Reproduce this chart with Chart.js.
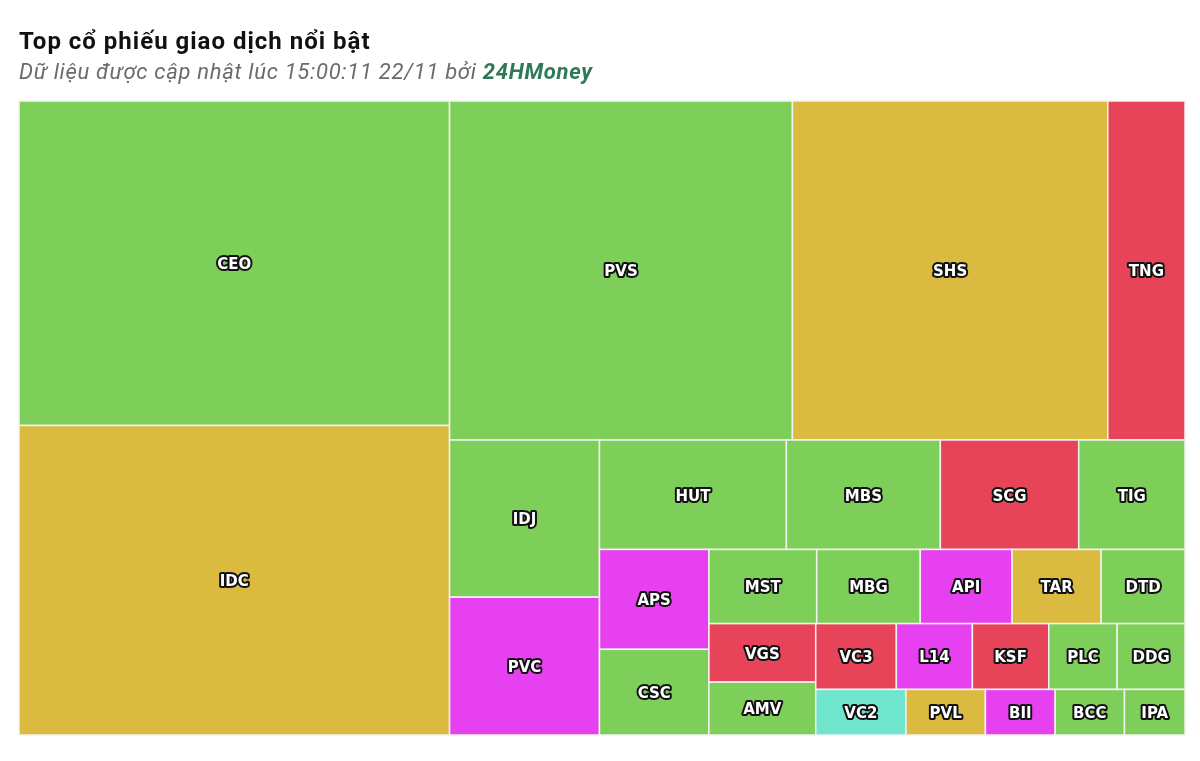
<!DOCTYPE html>
<html>
<head>
<meta charset="utf-8">
<script src="https://cdn.jsdelivr.net/npm/chart.js@4.4.1/dist/chart.umd.min.js"></script>
<style>
  html, body { margin: 0; padding: 0; background: #fff; }
  #wrap { position: relative; width: 1200px; height: 761px; overflow: hidden; }
  #title { position: absolute; left: 19px; top: 29px; font: bold 24px Roboto, sans-serif; line-height: 24px; letter-spacing: 1px; color: #111; white-space: nowrap; }
  #sub { position: absolute; left: 19px; top: 61px; font: italic 22px Roboto, sans-serif; line-height: 22px; letter-spacing: 0.7px; color: #6b6b6b; white-space: nowrap; }
  #sub b { color: #2e7a58; font-weight: bold; }
  #c { position: absolute; left: 0; top: 0; }
</style>
</head>
<body>
<div id="wrap">
  <canvas id="c" width="1200" height="761"></canvas>
  <div id="title">Top cổ phiếu giao dịch nổi bật</div>
  <div id="sub">Dữ liệu được cập nhật lúc 15:00:11 22/11 bởi <b>24HMoney</b></div>
</div>
<script>
// ---- data ----
const tickers = ["CEO","IDC","PVS","SHS","TNG","IDJ","PVC","HUT","MBS","SCG","TIG","APS","CSC","MST","MBG","API","TAR","DTD","VGS","AMV","VC3","L14","KSF","PLC","DDG","VC2","PVL","BII","BCC","IPA"];
const values  = [139.3,132.9,115.9,106.6,26.1,23.5,20.6,20.4,16.8,15.1,11.6,10.9,9.35,7.97,7.66,6.79,6.59,6.20,6.23,5.63,5.29,4.99,5.01,4.49,4.45,4.10,3.61,3.17,3.15,2.75];
const statuses = ["up","ref","up","ref","down","up","ceil","up","up","down","up","ceil","up","up","up","ceil","ref","up","down","up","down","ceil","down","up","up","floor","ref","ceil","up","up"];
const statusColors = { up: "#7ecf59", ref: "#dbbb3f", down: "#e84459", ceil: "#e740f0", floor: "#6fe5cd" };

// Highcharts-like "squarified" layout (alternating direction)
function squarified(vals, W, H) {
  const total = vals.reduce((a, b) => a + b, 0);
  const parent = { x: 0, y: 0, width: W, height: H };
  const plot = { x: 0, y: 0, parent };
  const out = [];
  const g = {
    height: H, width: W, direction: 0, total: 0, nW: 0, lW: 0, nH: 0, lH: 0, elArr: [],
    lP: { total: 0, lH: 0, nH: 0, lW: 0, nW: 0, nR: 0, lR: 0 }
  };
  const ar = (w, h) => Math.max(w / h, h / w);
  function add(el) {
    g.lP.total = g.elArr[g.elArr.length - 1];
    g.total += el;
    if (g.direction === 0) {
      g.lW = g.nW;
      g.lP.lH = g.lP.total / g.lW;
      g.lP.lR = ar(g.lW, g.lP.lH);
      g.nW = g.total / g.height;
      g.lP.nH = g.lP.total / g.nW;
      g.lP.nR = ar(g.nW, g.lP.nH);
    } else {
      g.lH = g.nH;
      g.lP.lW = g.lP.total / g.lH;
      g.lP.lR = ar(g.lP.lW, g.lH);
      g.nH = g.total / g.width;
      g.lP.nW = g.lP.total / g.nH;
      g.lP.nR = ar(g.lP.nW, g.nH);
    }
    g.elArr.push(el);
  }
  function calc(last) {
    let gW = g.lW, gH = g.lH, keep;
    if (last) { gW = g.nW; gH = g.nH; } else { keep = g.elArr[g.elArr.length - 1]; }
    const end = g.elArr.length - 1;
    g.elArr.forEach((p, i) => {
      if (last || i < end) {
        let pw, ph;
        if (g.direction === 0) { pw = gW; ph = p / pw; } else { ph = gH; pw = p / ph; }
        out.push({ x: plot.x, y: plot.y, w: pw, h: ph });
        if (g.direction === 0) plot.y += ph; else plot.x += pw;
      }
    });
    g.nW = 0; g.lW = 0; g.elArr = []; g.total = 0;
    if (g.direction === 0) g.width -= gW; else g.height -= gH;
    plot.y = parent.y + (parent.height - g.height);
    plot.x = parent.x + (parent.width - g.width);
    g.direction = 1 - g.direction;
    if (!last) add(keep);
  }
  vals.forEach((v, i) => {
    add(W * H * v / total);
    if (g.lP.nR > g.lP.lR) calc(false);
    if (i === vals.length - 1) calc(true);
  });
  return out;
}

const treemapPlugin = {
  id: "treemapCells",
  afterDatasetsDraw(chart) {
    const { ctx, chartArea: a, scales: { x, y } } = chart;
    const W = a.right - a.left, H = a.bottom - a.top;
    const rects = squarified(values, W, H);
    ctx.save();
    rects.forEach((r, i) => {
      const x0 = x.getPixelForValue(r.x / W * 100);
      const x1 = x.getPixelForValue((r.x + r.w) / W * 100);
      const y0 = y.getPixelForValue(r.y / H * 100);
      const y1 = y.getPixelForValue((r.y + r.h) / H * 100);
      ctx.fillStyle = statusColors[statuses[i]];
      ctx.fillRect(x0, y0, x1 - x0, y1 - y0);
      ctx.strokeStyle = "#f2f2f2";
      ctx.lineWidth = 1.5;
      ctx.strokeRect(x0, y0, x1 - x0, y1 - y0);
    });
    ctx.font = "bold 15px 'DejaVu Sans', sans-serif";
    ctx.textAlign = "center";
    ctx.textBaseline = "middle";
    ctx.lineJoin = "round";
    rects.forEach((r, i) => {
      const cx = x.getPixelForValue((r.x + r.w / 2) / W * 100);
      const cy = y.getPixelForValue((r.y + r.h / 2) / H * 100) + 2;
      ctx.lineWidth = 4;
      ctx.strokeStyle = "#111";
      ctx.strokeText(tickers[i], cx, cy);
      ctx.fillStyle = "#fff";
      ctx.fillText(tickers[i], cx, cy);
    });
    ctx.restore();
  }
};

new Chart(document.getElementById("c"), {
  type: "scatter",
  data: { datasets: [{ data: [] }] },
  options: {
    responsive: false,
    animation: false,
    layout: { padding: { left: 19, right: 15, top: 101, bottom: 26 } },
    plugins: { legend: { display: false }, tooltip: { enabled: false } },
    scales: {
      x: { type: "linear", min: 0, max: 100, display: false },
      y: { type: "linear", min: 0, max: 100, reverse: true, display: false }
    }
  },
  plugins: [treemapPlugin]
});
</script>
</body>
</html>
